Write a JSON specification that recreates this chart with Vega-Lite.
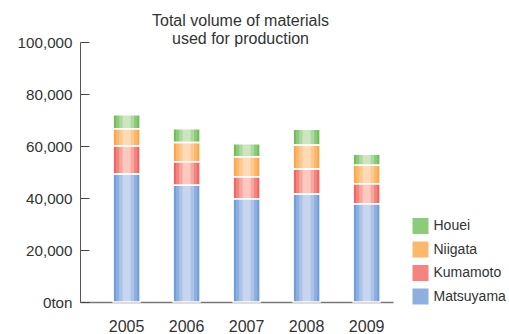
{
  "$schema": "https://vega.github.io/schema/vega-lite/v6.json",
  "width": 313,
  "height": 260,
  "autosize": {"type": "none"},
  "padding": {"left": 80, "top": 42, "right": 116, "bottom": 32},
  "background": "white",
  "config": {"view": {"stroke": null}},
  "title": {
    "text": ["Total volume of materials", "used for production"],
    "font": "Liberation Sans",
    "fontSize": 16,
    "fontWeight": "normal",
    "color": "#333333",
    "anchor": "middle",
    "dx": 4,
    "offset": -12,
    "lineHeight": 18
  },
  "data": {
    "values": [
      {"year": "2005", "site": "Matsuyama", "volume": 49200},
      {"year": "2005", "site": "Kumamoto", "volume": 10800},
      {"year": "2005", "site": "Niigata", "volume": 6600},
      {"year": "2005", "site": "Houei", "volume": 5400},
      {"year": "2006", "site": "Matsuyama", "volume": 44900},
      {"year": "2006", "site": "Kumamoto", "volume": 9050},
      {"year": "2006", "site": "Niigata", "volume": 7350},
      {"year": "2006", "site": "Houei", "volume": 5350},
      {"year": "2007", "site": "Matsuyama", "volume": 39750},
      {"year": "2007", "site": "Kumamoto", "volume": 8450},
      {"year": "2007", "site": "Niigata", "volume": 7700},
      {"year": "2007", "site": "Houei", "volume": 5000},
      {"year": "2008", "site": "Matsuyama", "volume": 41550},
      {"year": "2008", "site": "Kumamoto", "volume": 9600},
      {"year": "2008", "site": "Niigata", "volume": 9250},
      {"year": "2008", "site": "Houei", "volume": 6000},
      {"year": "2009", "site": "Matsuyama", "volume": 37800},
      {"year": "2009", "site": "Kumamoto", "volume": 7700},
      {"year": "2009", "site": "Niigata", "volume": 7100},
      {"year": "2009", "site": "Houei", "volume": 4200}
    ]
  },
  "transform": [
    {"calculate": "indexof(['Matsuyama','Kumamoto','Niigata','Houei'], datum.site)", "as": "stackIndex"},
    {"stack": "volume", "groupby": ["year"], "sort": [{"field": "stackIndex", "order": "ascending"}], "as": ["v0", "v1"]}
  ],
  "encoding": {
    "x": {
      "field": "year",
      "type": "nominal",
      "scale": {"paddingInner": 0.55, "paddingOuter": 0.383, "align": 0.72},
      "axis": {
        "title": null,
        "labelAngle": 0,
        "ticks": false,
        "domainColor": "#777777",
        "domainWidth": 1.5,
        "labelFont": "Liberation Sans",
        "labelFontSize": 16,
        "labelColor": "#333333",
        "labelPadding": 29,
        "labelBaseline": "alphabetic"
      }
    },
    "y": {
      "field": "v1",
      "type": "quantitative",
      "scale": {"domain": [0, 100000], "nice": false},
      "axis": {
        "title": null,
        "values": [0, 20000, 40000, 60000, 80000, 100000],
        "grid": false,
        "labelExpr": "datum.value == 0 ? '0ton' : format(datum.value, ',')",
        "domainColor": "#555555",
        "tickColor": "#444444",
        "tickSize": -9,
        "labelPadding": 17,
        "labelFont": "Liberation Sans",
        "labelFontSize": 15.2,
        "labelColor": "#333333"
      }
    },
    "y2": {"field": "v0"}
  },
  "layer": [
    {
      "mark": {"type": "bar", "strokeWidth": 0},
      "encoding": {
        "fill": {
          "field": "site",
          "type": "nominal",
          "scale": {
            "domain": ["Houei", "Niigata", "Kumamoto", "Matsuyama"],
            "range": ["#70be5c", "#fba84c", "#ef6764", "#729fd8"]
          },
          "legend": null
        }
      }
    },
    {
      "mark": {"type": "bar", "strokeWidth": 0, "width": {"band": 0.78}},
      "encoding": {
        "fill": {
          "field": "site",
          "type": "nominal",
          "scale": {
            "domain": ["Houei", "Niigata", "Kumamoto", "Matsuyama"],
            "range": ["#8ccb7a", "#fcb86b", "#f3847f", "#8cb0e0"]
          },
          "legend": {
            "title": null,
            "orient": "none",
            "legendX": 332.5,
            "legendY": 176,
            "padding": 0,
            "symbolType": "square",
            "symbolSize": 256,
            "symbolStrokeWidth": 0,
            "symbolOpacity": 1,
            "rowPadding": 7.5,
            "labelOffset": 5,
            "labelFont": "Liberation Sans",
            "labelFontSize": 14,
            "labelColor": "#333333"
          }
        }
      }
    },
    {
      "mark": {"type": "bar", "strokeWidth": 0, "width": {"band": 0.55}},
      "encoding": {
        "fill": {
          "field": "site",
          "type": "nominal",
          "scale": {
            "domain": ["Houei", "Niigata", "Kumamoto", "Matsuyama"],
            "range": ["#acd99f", "#fdc990", "#f8a69e", "#abc3e8"]
          },
          "legend": null
        }
      }
    },
    {
      "mark": {"type": "bar", "strokeWidth": 0, "width": {"band": 0.3}},
      "encoding": {
        "fill": {
          "field": "site",
          "type": "nominal",
          "scale": {
            "domain": ["Houei", "Niigata", "Kumamoto", "Matsuyama"],
            "range": ["#cde6be", "#fedbb4", "#fbc9bf", "#c8d5ef"]
          },
          "legend": null
        }
      }
    },
    {
      "mark": {"type": "bar", "fill": null, "fillOpacity": 0, "stroke": "white", "strokeWidth": 1.5}
    }
  ],
  "resolve": {"scale": {"fill": "independent"}, "legend": {"fill": "independent"}}
}
